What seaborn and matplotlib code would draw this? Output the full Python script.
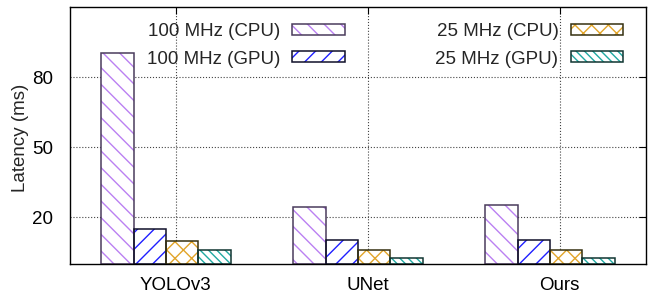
import numpy as np
import pandas as pd
import matplotlib
matplotlib.use("Agg")
import matplotlib.pyplot as plt
import seaborn as sns
from matplotlib.patches import Patch, Rectangle
from matplotlib.legend_handler import HandlerTuple

# valori (latenza in ms)
models = ["YOLOv3", "UNet", "Ours"]
settings = ["100 MHz (CPU)", "100 MHz (GPU)", "25 MHz (CPU)", "25 MHz (GPU)"]
cpu_100 = [90.3, 24.6, 25.2]
gpu_100 = [15.0, 10.2, 10.2]
cpu_25 = [10.0, 6.0, 6.1]
gpu_25 = [6.0, 2.4, 2.4]
y_ticks = [20, 50, 80]

hatch_colors = ["#bb80f2", "#1f1fff", "#e2a52a", "#1fa9a2"]
edge_colors = ["#4a3c5c", "#10102a", "#35300f", "#0f3532"]
hatches = ["\\\\", "//", "xx", "\\\\\\\\"]

df = pd.DataFrame({
    "model": models * 4,
    "setting": [s for s in settings for _ in models],
    "latency": cpu_100 + gpu_100 + cpu_25 + gpu_25,
})

sns.set_style("white")
plt.rcParams["font.family"] = ["Liberation Sans", "DejaVu Sans"]
plt.rcParams["hatch.linewidth"] = 1.0

fig = plt.figure(figsize=(6.51, 2.95), dpi=100)
ax = fig.add_axes([70 / 651, 1 - 264 / 295, 576 / 651, 257 / 295])

sns.barplot(data=df, x="model", y="latency", hue="setting", order=models,
            hue_order=settings, width=0.673, gap=0, errorbar=None,
            legend=False, ax=ax)

# tratteggio con colore proprio e bordo scuro separato
for cont, hc, ec, h in zip(ax.containers, hatch_colors, edge_colors, hatches):
    for bar in cont:
        bar.set_facecolor("white")
        bar.set_edgecolor(hc)
        bar.set_hatch(h)
        bar.set_linewidth(0)
        ax.add_patch(Rectangle((bar.get_x(), bar.get_y()), bar.get_width(), bar.get_height(),
                               fill=False, ec=ec, lw=1.1, zorder=bar.get_zorder() + 0.1))

ax.set_xlim(-0.5, 2.5)
ax.set_ylim(0, 110)
ax.set_xticks([i + 0.05 for i in range(len(models))], models)
ax.set_yticks(y_ticks)
ax.set_xlabel("")
ax.set_ylabel("Latency (ms)", fontsize=13.5)
ax.yaxis.set_label_coords(-0.071, 0.49)
ax.set_axisbelow(True)
ax.grid(True, ls=":", color="#444444", lw=0.8)
ax.tick_params(direction="in", top=True, right=True, length=5, width=0.8,
               labelsize=13.5, colors="black")
ax.tick_params(axis="x", pad=9.5)
ax.tick_params(axis="y", pad=12)
for s in ax.spines.values():
    s.set_color("black")
    s.set_linewidth(1.0)

handles = [(Patch(fc="white", ec=hc, hatch=h, lw=0), Patch(fill=False, ec=ec, lw=1.1))
           for hc, ec, h in zip(hatch_colors, edge_colors, hatches)]
ax.legend(handles, settings, handler_map={tuple: HandlerTuple(ndivide=1, pad=0)},
          ncol=2, markerfirst=False, frameon=False, loc="upper right",
          bbox_to_anchor=(0.960, 0.939), fontsize=13.5, handlelength=2.78,
          handleheight=0.53, handletextpad=0.66, columnspacing=4.85,
          labelspacing=0.58, borderpad=0, borderaxespad=0)

fig.savefig("out.png", dpi=100)
